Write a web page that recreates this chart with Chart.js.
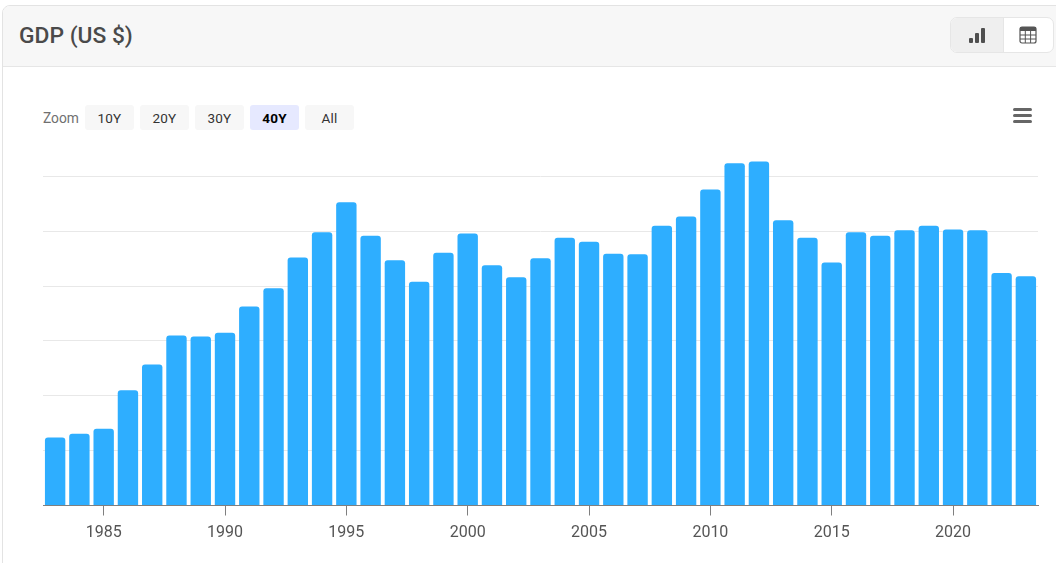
<!DOCTYPE html>
<html>
<head>
<meta charset="utf-8">
<script src="https://cdn.jsdelivr.net/npm/chart.js@4"></script>
<style>
html,body{margin:0;padding:0;background:#fff;width:1056px;height:563px;overflow:hidden;font-family:Roboto,sans-serif}
.card{position:absolute;left:2px;top:5px;width:1070px;height:600px;border:1px solid #e3e3e3;border-radius:8px;box-sizing:border-box}
.head{position:absolute;left:3px;top:6px;width:1053px;height:60px;background:#f7f7f7;border-bottom:1px solid #e6e6e6;border-top-left-radius:7px}
.title{position:absolute;left:19px;top:22px;font-size:22.8px;line-height:28px;font-weight:500;color:#4a4a4a}
.group{position:absolute;left:950px;top:17px;width:104px;height:36px;border:1px solid #e6e6e6;border-radius:7px;box-sizing:border-box;background:#fff;overflow:hidden}
.group .on{position:absolute;left:0;top:0;width:52px;height:100%;background:#efefef;border-right:1px solid #e6e6e6}
.icon{position:absolute}
.zl{position:absolute;left:43px;top:110px;font-size:13.8px;line-height:16px;color:#707070}
.zb{position:absolute;top:105px;width:49px;height:25px;line-height:26px;text-align:center;background:#f7f7f7;border-radius:3px;font-size:13.5px;color:#333;letter-spacing:.2px}
.zb.sel{background:#e6e9ff;color:#000;font-weight:700}
#wrap{position:absolute;left:0;top:0;width:1056px;height:563px}
.menu{position:absolute;left:1013px;top:108px}
</style>
</head>
<body>
<div class="card"></div>
<div class="head"></div>
<div class="title">GDP (US $)</div>
<div class="group"><div class="on"></div></div>
<svg class="icon" style="left:968px;top:27px" width="18" height="17"><g fill="#4f4f4f"><rect x="1" y="11" width="4" height="5" rx="1"/><rect x="7" y="6" width="4" height="10" rx="1"/><rect x="13" y="1" width="4" height="15" rx="1"/></g></svg>
<svg class="icon" style="left:1019px;top:26px" width="18" height="18"><rect x="1" y="1" width="16" height="16" rx="2" fill="#fff" stroke="#555" stroke-width="1.2"/><rect x="1" y="1" width="16" height="4" fill="#555"/><path d="M6.3 5V17M11.6 5V17M1 9H17M1 13H17" stroke="#555" stroke-width="1"/></svg>
<div class="zl">Zoom</div>
<div class="zb" style="left:85px">10Y</div>
<div class="zb" style="left:140px">20Y</div>
<div class="zb" style="left:195px">30Y</div>
<div class="zb sel" style="left:250px">40Y</div>
<div class="zb" style="left:305px">All</div>
<svg class="menu" width="20" height="16"><g fill="#666"><rect x="0" y="0" width="19" height="3" rx="1.5"/><rect x="0" y="6" width="19" height="3" rx="1.5"/><rect x="0" y="12" width="19" height="3" rx="1.5"/></g></svg>
<div id="wrap"><canvas id="c" width="1056" height="563"></canvas></div>
<script>
const years = [1983,1984,1985,1986,1987,1988,1989,1990,1991,1992,1993,1994,1995,1996,1997,1998,1999,2000,2001,2002,2003,2004,2005,2006,2007,2008,2009,2010,2011,2012,2013,2014,2015,2016,2017,2018,2019,2020,2021,2022,2023];
const gdpValues = [1.24,1.31,1.40,2.10,2.57,3.10,3.08,3.15,3.63,3.96,4.52,4.98,5.53,4.92,4.47,4.08,4.61,4.96,4.38,4.16,4.51,4.88,4.81,4.59,4.58,5.10,5.27,5.76,6.24,6.27,5.20,4.88,4.43,4.98,4.92,5.02,5.10,5.03,5.02,4.24,4.18];
const labelEvery = 5;
const isLabelled = y => y % labelEvery === 0;

new Chart(document.getElementById('c'), {
  type: 'bar',
  data: {
    labels: years,
    datasets: [{
      label: 'GDP (US $)',
      data: gdpValues,
      backgroundColor: '#2eaeff',
      barPercentage: 0.84,
      categoryPercentage: 1,
      borderRadius: {topLeft: 3, topRight: 3, bottomLeft: 0, bottomRight: 0},
      borderSkipped: false
    }]
  },
  options: {
    responsive: false,
    animation: false,
    layout: {padding: {left: 43, right: 18, top: 149, bottom: 0}},
    plugins: {legend: {display: false}, tooltip: {enabled: false}, title: {display: false}},
    scales: {
      x: {
        offset: true,
        afterFit(s) { s.height = 57.5; },
        border: {color: '#7f7f7f', width: 1},
        grid: {
          offset: false,
          drawOnChartArea: false,
          tickLength: 10,
          tickColor: c => (c.tick && isLabelled(Number(years[c.index]))) ? '#7f7f7f' : 'rgba(0,0,0,0)'
        },
        ticks: {
          autoSkip: false,
          maxRotation: 0,
          minRotation: 0,
          padding: 8,
          color: '#555',
          font: {family: 'Roboto', size: 16},
          callback(v, i) { return isLabelled(years[i]) ? String(years[i]) : ''; }
        }
      },
      y: {
        min: 0,
        max: 6.5,
        afterFit(s) { s.width = 0; },
        border: {display: false},
        grid: {color: c => (c.tick && Number.isInteger(c.tick.value)) ? '#e8e8e8' : 'rgba(0,0,0,0)', drawTicks: false},
        ticks: {display: false, stepSize: 1}
      }
    }
  }
});
</script>
</body>
</html>
